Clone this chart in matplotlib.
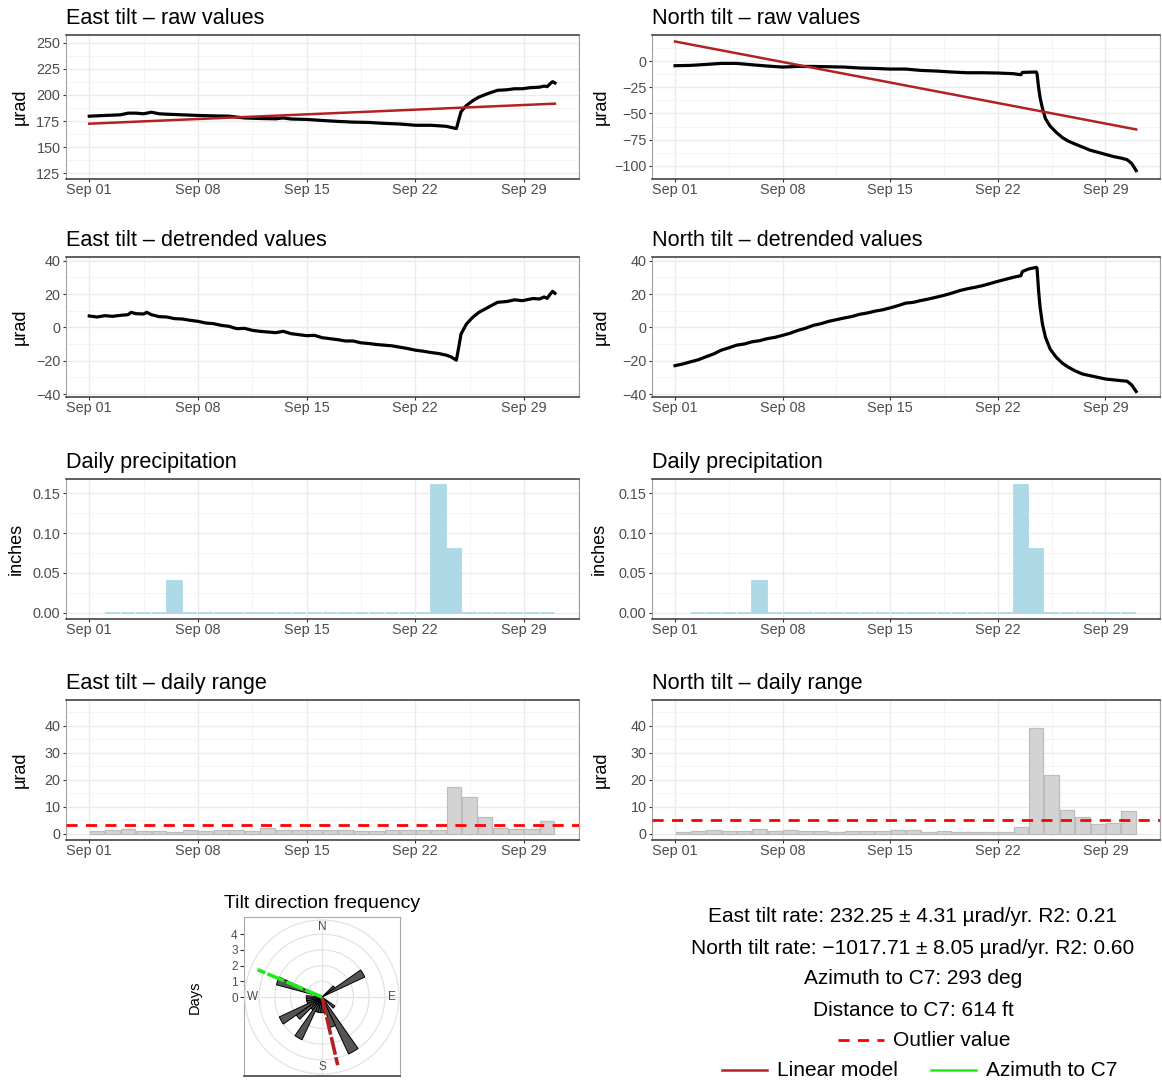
"""Tilt station summary: raw / detrended tilt, rain, daily range and tilt-direction rose."""

import matplotlib

matplotlib.use("Agg")
import matplotlib.dates as mdates
import matplotlib.pyplot as plt
import numpy as np
import pandas as pd

plt.rcParams["font.family"] = ["Liberation Sans", "DejaVu Sans"]

START = pd.Timestamp("2020-09-01")

# ---- tilt series (day offset from Sep 01, value in urad) ----
EAST_RAW_DAYS = [0, 1, 2, 2.5, 3, 3.5, 4, 4.5, 5, 6, 7, 8, 9, 10, 11, 12, 12.5, 13, 14, 15, 16,
                 17, 18, 19, 20, 21, 22, 23, 23.65, 23.8, 23.95, 24.3, 24.7, 25.1, 25.7, 26.3,
                 26.9, 27.4, 27.9, 28.4, 29.0, 29.3, 29.5, 29.7, 29.85, 30.0]
EAST_RAW = [179.7, 180.4, 181.0, 182.6, 182.6, 182.0, 183.5, 182.0, 181.6, 181.0, 180.4, 180.0,
            179.7, 178.0, 177.5, 177.2, 178.0, 177.0, 176.6, 175.6, 174.7, 174.0, 173.7, 172.8,
            172.2, 171.0, 171.0, 170.0, 167.8, 176.0, 184.0, 190.0, 194.5, 198.0, 201.5, 204.5,
            205.0, 206.0, 206.0, 207.0, 207.5, 208.5, 208.0, 211.0, 212.8, 211.5]

EAST_DET_DAYS = [0, 0.5, 1, 1.5, 2, 2.5, 2.7, 3, 3.5, 3.7, 4, 4.5, 5, 5.5, 6, 6.5, 7, 7.5, 8, 8.5,
                 9, 9.5, 10, 10.5, 11, 11.5, 12, 12.5, 13, 13.5, 14, 14.5, 15, 15.5, 16, 16.5, 17,
                 17.5, 18, 18.5, 19, 19.5, 20, 20.5, 21, 21.5, 22, 22.5, 23, 23.3, 23.65, 23.8,
                 23.95, 24.3, 24.7, 25.1, 25.7, 26.3, 26.9, 27.4, 27.9, 28.6, 29.0, 29.3, 29.5,
                 29.7, 29.85, 30.0]
EAST_DET = [6.8, 6.2, 7.0, 6.6, 7.2, 7.6, 9.0, 8.2, 8.0, 9.0, 7.6, 6.4, 6.2, 5.2, 5.0, 4.2, 3.6,
            2.6, 2.2, 1.2, 0.6, -0.8, -0.6, -1.8, -2.4, -2.8, -3.2, -2.4, -3.8, -4.4, -5.0, -4.8,
            -6.2, -6.8, -7.4, -8.2, -8.2, -9.3, -9.7, -10.3, -10.7, -11.1, -11.9, -12.7, -13.7,
            -14.3, -15.1, -15.7, -16.7, -17.7, -19.7, -12.0, -4.0, 2.0, 6.0, 9.0, 12.0, 15.0,
            15.5, 16.5, 16.0, 17.3, 17.0, 18.2, 17.4, 20.0, 21.6, 20.4]

NORTH_RAW_DAYS = [0, 1, 2, 3, 4, 5, 6, 7, 8, 9, 10, 11, 12, 13, 14, 15, 16, 17, 18, 19, 20, 21,
                  22, 22.5, 22.6, 23.5, 23.55, 23.65, 23.75, 23.9, 24.1, 24.4, 24.8, 25.2, 25.6,
                  26, 26.5, 27, 27.5, 28, 28.5, 29, 29.4, 29.7, 30]
NORTH_RAW = [-4.4, -4.1, -3.2, -2.2, -2.2, -3.5, -4.7, -5.7, -5.1, -5.1, -5.4, -5.7, -6.6, -7.0,
             -7.6, -7.6, -8.9, -9.5, -10.4, -11.1, -11.1, -11.4, -12.0, -13.0, -10.8, -10.4,
             -12.0, -25.0, -35.0, -45.0, -55.0, -62.0, -68.0, -73.0, -76.5, -79.0, -82.0, -85.0,
             -87.0, -89.0, -91.0, -92.5, -94.0, -97.5, -104.5]

NORTH_DET_DAYS = [0, 0.5, 1, 1.5, 2, 2.5, 3, 3.5, 4, 4.5, 5, 5.5, 6, 6.5, 7, 7.5, 8, 8.5, 9, 9.5,
                  10, 10.5, 11, 11.5, 12, 12.5, 13, 13.5, 14, 14.5, 15, 15.5, 16, 16.5, 17, 17.5,
                  18, 18.5, 19, 19.5, 20, 20.5, 21, 21.5, 22, 22.5, 22.6, 23, 23.5, 23.55, 23.65,
                  23.75, 23.9, 24.1, 24.4, 24.8, 25.2, 25.6, 26, 26.5, 27, 27.5, 28, 28.5, 29,
                  29.4, 29.7, 30]
NORTH_DET = [-23.0, -22.0, -20.7, -19.5, -17.7, -16.0, -13.7, -12.3, -10.7, -10.0, -8.7, -8.0,
             -6.8, -6.0, -4.8, -3.5, -1.8, -0.5, 1.2, 2.2, 3.6, 4.6, 5.6, 6.5, 7.8, 8.6, 9.7,
             10.5, 11.7, 13.0, 14.5, 15.0, 16.1, 17.0, 18.1, 19.2, 20.5, 22.0, 23.1, 24.0, 25.0,
             26.3, 27.6, 28.8, 30.0, 31.0, 33.5, 35.0, 36.0, 35.5, 22.0, 12.0, 2.0, -6.0, -13.0,
             -18.0, -21.5, -24.0, -26.0, -28.0, -29.0, -30.0, -31.0, -31.5, -32.0, -32.3, -34.5,
             -38.5]

# linear model end points (day 0 and day 30)
EAST_TREND = [172.5, 191.7]
NORTH_TREND = [18.7, -65.2]
TREND_DAYS = [0, 30]

# ---- daily values ----
PRECIP_DAYS = list(range(1, 30))  # Sep 02 .. Sep 30
PRECIP = [0, 0, 0, 0, 0.04, 0, 0, 0, 0, 0, 0, 0, 0, 0, 0, 0, 0, 0, 0, 0, 0, 0.16, 0.08,
          0, 0, 0, 0, 0, 0]

RANGE_DAYS = list(range(0, 30))  # Sep 01 .. Sep 30
EAST_RANGE = [1.0, 1.4, 1.8, 1.0, 1.0, 0.7, 1.3, 1.0, 1.3, 1.3, 1.0, 2.0, 1.4, 1.5, 1.2, 1.3,
              1.3, 0.8, 1.0, 1.2, 1.2, 1.2, 1.2, 17.2, 13.5, 6.3, 2.2, 1.6, 1.8, 4.7]
NORTH_RANGE = [0.7, 1.0, 1.3, 1.0, 1.0, 1.6, 1.0, 1.3, 1.0, 1.0, 0.7, 1.0, 1.0, 1.0, 1.3, 1.3,
               0.5, 1.0, 0.7, 0.7, 0.4, 0.4, 2.5, 39.3, 21.8, 8.7, 6.1, 3.7, 4.0, 8.3]
EAST_OUTLIER = 3.2
NORTH_OUTLIER = 4.9

# ---- tilt direction rose (bearing of 10-degree bin centre, days) ----
ROSE_BEARING = [50, 60, 130, 150, 160, 170, 180, 190, 200, 210, 220, 230, 240, 250, 260, 270, 290]
ROSE_DAYS = [1, 3, 1, 4, 2, 1, 1, 1, 1, 3, 1, 2, 3, 1, 1, 1, 3]
MODEL_BEARING = 167
C7_BEARING = 293

INFO_LINES = [
    "East tilt rate: 232.25 \u00b1 4.31 \u00b5rad/yr. R2: 0.21",
    "North tilt rate: \u22121017.71 \u00b1 8.05 \u00b5rad/yr. R2: 0.60",
    "Azimuth to C7: 293 deg",
    "Distance to C7: 614 ft",
]

W, H = 1162, 1080
LEFT_X = (66, 579)
RIGHT_X = (652, 1160)
ROWS = [(35, 179), (257, 397), (479, 619), (700, 840)]

FIREBRICK = "#B22222"
LIME = "#1EEB1E"
TICK_GRAY = "#4D4D4D"


def to_dates(days):
    return START + pd.to_timedelta(np.asarray(days, dtype=float), unit="D")


def add_px_axes(fig, x0, y0, x1, y1, **kw):
    return fig.add_axes([x0 / W, 1 - y1 / H, (x1 - x0) / W, (y1 - y0) / H], **kw)


def fig_text(fig, x, y, s, **kw):
    return fig.text(x / W, 1 - y / H, s, **kw)


def style_panel(ax, ylim, yticks, yminor, fmt=None):
    ax.set_facecolor("white")
    ax.set_xlim(to_dates([-1.5])[0], to_dates([31.55])[0])
    ax.set_ylim(*ylim)
    ax.set_yticks(yticks)
    ax.set_yticks(yminor, minor=True)
    if fmt:
        ax.set_yticklabels([fmt.format(v).replace("-", "\u2212") for v in yticks])
    else:
        ax.set_yticklabels([str(v).replace("-", "\u2212") for v in yticks])
    ax.set_xticks(to_dates([0, 7, 14, 21, 28]))
    ax.set_xticks(to_dates([3.5, 10.5, 17.5, 24.5, 31.5]), minor=True)
    ax.xaxis.set_major_formatter(mdates.DateFormatter("%b %d"))
    ax.grid(True, which="major", color="#EBEBEB", lw=1.0)
    ax.grid(True, which="minor", color="#F3F3F3", lw=0.6)
    ax.set_axisbelow(True)
    ax.tick_params(which="major", length=2.5, width=0.8, color="#333333", pad=1.5,
                   labelsize=10.4, labelcolor=TICK_GRAY)
    ax.tick_params(axis="x", which="major", pad=0.3)
    ax.tick_params(which="minor", length=0)
    for side in ("top", "bottom"):
        ax.spines[side].set_color("#333333")
        ax.spines[side].set_linewidth(1.1)
    for side in ("left", "right"):
        ax.spines[side].set_color("#A0A0A0")
        ax.spines[side].set_linewidth(0.8)


def panel(fig, col, row, title, ylabel, label_x):
    x0, x1 = col
    y0, y1 = ROWS[row]
    ax = add_px_axes(fig, x0, y0, x1, y1)
    fig_text(fig, x0, y0 - 10.5, title, fontsize=15.6, ha="left", va="baseline")
    fig_text(fig, label_x, (y0 + y1) / 2, ylabel, fontsize=13, rotation=90,
             ha="center", va="center")
    return ax


fig = plt.figure(figsize=(W / 100, H / 100), dpi=100)

# row 1: raw values
ax = panel(fig, LEFT_X, 0, "East tilt \u2013 raw values", "\u00b5rad", 20)
ax.plot(to_dates(EAST_RAW_DAYS), EAST_RAW, color="black", lw=2.3, zorder=3)
ax.plot(to_dates(TREND_DAYS), EAST_TREND, color=FIREBRICK, lw=1.8, zorder=4)
style_panel(ax, (119.5, 257.5), [125, 150, 175, 200, 225, 250],
            [137.5, 162.5, 187.5, 212.5, 237.5])

ax = panel(fig, RIGHT_X, 0, "North tilt \u2013 raw values", "\u00b5rad", 601)
ax.plot(to_dates(NORTH_RAW_DAYS), NORTH_RAW, color="black", lw=2.3, zorder=3)
ax.plot(to_dates(TREND_DAYS), NORTH_TREND, color=FIREBRICK, lw=1.8, zorder=4)
style_panel(ax, (-112.5, 24.9), [-100, -75, -50, -25, 0], [-87.5, -62.5, -37.5, -12.5, 12.5])

# row 2: detrended
ax = panel(fig, LEFT_X, 1, "East tilt \u2013 detrended values", "\u00b5rad", 20)
ax.plot(to_dates(EAST_DET_DAYS), EAST_DET, color="black", lw=2.3)
style_panel(ax, (-41.8, 42.2), [-40, -20, 0, 20, 40], [-30, -10, 10, 30])

ax = panel(fig, RIGHT_X, 1, "North tilt \u2013 detrended values", "\u00b5rad", 601)
ax.plot(to_dates(NORTH_DET_DAYS), NORTH_DET, color="black", lw=2.3)
style_panel(ax, (-41.8, 42.2), [-40, -20, 0, 20, 40], [-30, -10, 10, 30])

# row 3: precipitation (same series in both columns)
for col, lx in ((LEFT_X, 16), (RIGHT_X, 599)):
    ax = panel(fig, col, 2, "Daily precipitation", "inches", lx)
    ax.bar(to_dates(np.asarray(PRECIP_DAYS) + 0.5), PRECIP, width=0.94,
           color="#ADD8E6", edgecolor="#ADD8E6", linewidth=1.3)
    style_panel(ax, (-0.008, 0.168), [0, 0.05, 0.10, 0.15], [0.025, 0.075, 0.125],
                fmt="{:.2f}")

# row 4: daily range
for col, lx, vals, outlier, name in ((LEFT_X, 20, EAST_RANGE, EAST_OUTLIER, "East"),
                                     (RIGHT_X, 601, NORTH_RANGE, NORTH_OUTLIER, "North")):
    ax = panel(fig, col, 3, f"{name} tilt \u2013 daily range", "\u00b5rad", lx)
    ax.bar(to_dates(np.asarray(RANGE_DAYS) + 0.5), vals, width=0.94,
           color="#D3D3D3", edgecolor="#BDBDBD", linewidth=0.9, zorder=2)
    ax.axhline(outlier, color="#FF0000", lw=2.0, dashes=(4, 3), zorder=3)
    style_panel(ax, (-2.4, 49.6), [0, 10, 20, 30, 40], [5, 15, 25, 35, 45])

# ---- tilt direction rose ----
CX, CY, RPX = 322, 997, 77.0
RMAX = 4.9
PX_PER_DAY = RPX / RMAX
bx0, by0, bx1, by1 = 244, 917, 400, 1076
box = add_px_axes(fig, bx0, by0, bx1, by1)
box.set_xlim(-(CX - bx0) / PX_PER_DAY, (bx1 - CX) / PX_PER_DAY)
box.set_ylim(-(by1 - CY) / PX_PER_DAY, (CY - by0) / PX_PER_DAY)
box.set_xticks([])
box.set_yticks([0, 1, 2, 3, 4])
box.tick_params(axis="y", length=3, width=0.8, color="#333333", pad=1.5,
                labelsize=8.5, labelcolor=TICK_GRAY)
for side in ("top", "left", "right"):
    box.spines[side].set_color("#A8A8A8")
    box.spines[side].set_linewidth(0.8)
box.spines["bottom"].set_color("#333333")
box.spines["bottom"].set_linewidth(1.1)
fig_text(fig, 195, 997, "Days", fontsize=10.5, rotation=90, ha="center", va="center")
fig_text(fig, 322, 908, "Tilt direction frequency", fontsize=14, ha="center", va="baseline")

pol = add_px_axes(fig, CX - RPX, CY - RPX, CX + RPX, CY + RPX, projection="polar")
pol.patch.set_alpha(0)
pol.set_theta_zero_location("N")
pol.set_theta_direction(-1)
pol.set_ylim(0, RMAX)
pol.set_yticks([1, 2, 3, 4])
pol.set_yticklabels([])
pol.set_xticks(np.deg2rad([0, 90, 180, 270]))
pol.set_xticklabels([])
pol.grid(True, color="#E3E3E3", lw=0.9)
pol.spines["polar"].set_color("#E3E3E3")
pol.spines["polar"].set_linewidth(0.9)
pol.bar(np.deg2rad(ROSE_BEARING), ROSE_DAYS, width=np.deg2rad(10), bottom=0,
        color="#555555", edgecolor="black", linewidth=0.7, zorder=3)
pol.plot(np.deg2rad([MODEL_BEARING, MODEL_BEARING]), [0, 4.45], color=FIREBRICK,
         lw=2.6, dashes=(5, 0.7), zorder=4, solid_capstyle="butt")
pol.plot(np.deg2rad([C7_BEARING, C7_BEARING]), [0, 4.45], color=LIME,
         lw=2.6, dashes=(5, 0.7), zorder=4, solid_capstyle="butt")
for lab, deg in (("N", 0), ("E", 90), ("S", 180), ("W", 270)):
    pol.text(np.deg2rad(deg), 4.45, lab, ha="center", va="center", fontsize=8.5,
             color=TICK_GRAY, zorder=5)

# ---- summary text and legend ----
for i, line in enumerate(INFO_LINES):
    fig_text(fig, 913, 917 + 31 * i, line, fontsize=15, ha="center", va="center")


def legend_line(x0, x1, y, **kw):
    fig.add_artist(plt.Line2D([x0 / W, x1 / W], [1 - y / H, 1 - y / H],
                              transform=fig.transFigure, **kw))


legend_line(838, 884, 1040, color="#FF0000", lw=2.0, dashes=(4, 3))
fig_text(fig, 893, 1040, "Outlier value", fontsize=15, ha="left", va="center")
legend_line(722, 767, 1070, color=FIREBRICK, lw=1.8)
fig_text(fig, 777, 1070, "Linear model", fontsize=15, ha="left", va="center")
legend_line(931, 976, 1070, color=LIME, lw=1.8)
fig_text(fig, 986, 1070, "Azimuth to C7", fontsize=15, ha="left", va="center")

fig.savefig("out.png", dpi=100, facecolor="white")
